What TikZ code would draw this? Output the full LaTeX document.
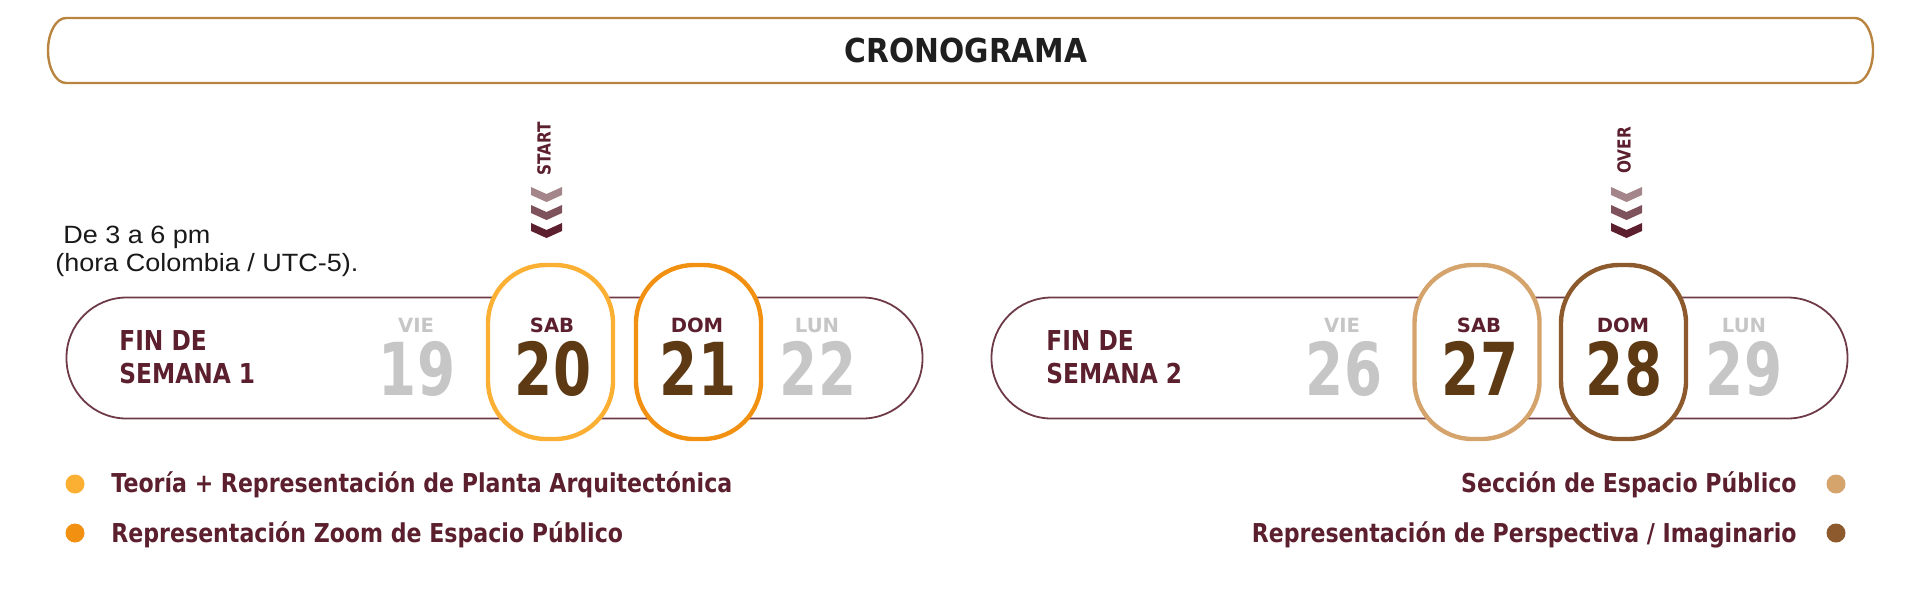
\documentclass[tikz,border=0pt]{standalone}
\usepackage{fontspec}
\newfontfamily\pixfont[FakeStretch=0.85]{DejaVu Sans}
\newfontfamily\headfont[FakeStretch=0.9]{DejaVu Sans}
\newfontfamily\dayfont{DejaVu Sans}
\newfontfamily\numfont[FakeStretch=0.75]{DejaVu Sans}
\newfontfamily\notefont[FakeStretch=1.08]{Liberation Sans}

\definecolor{wine}{HTML}{5B1F2E}
\definecolor{pillline}{HTML}{6E3A47}
\definecolor{numbrown}{HTML}{5E3A14}
\definecolor{offgray}{HTML}{C6C6C6}
\definecolor{sabA}{HTML}{FBB034}
\definecolor{domA}{HTML}{F29111}
\definecolor{sabB}{HTML}{D4A46C}
\definecolor{domB}{HTML}{8D5A2D}
\definecolor{barline}{HTML}{B8843F}
\definecolor{chevA}{HTML}{A3858A}
\definecolor{chevB}{HTML}{7E525B}
\definecolor{chevC}{HTML}{5B1F2E}

\begin{document}
\begin{tikzpicture}[
    x=0.5pt, y=-0.5pt,
    titlebar/.style={draw=barline, line width=1.2pt},
    titletext/.style={font=\headfont\bfseries\fontsize{16.5}{18}\selectfont, text=black!88},
    weekpill/.style={draw=pillline, line width=0.9pt, rounded corners=30pt,
        minimum width=428pt, minimum height=60.5pt, inner sep=0pt},
    dayoval/.style={fill=white, line width=2.2pt, rounded corners=29pt,
        minimum width=62.5pt, minimum height=87pt, inner sep=0pt},
    weektext/.style={font=\pixfont\bfseries\fontsize{13.7}{16}\selectfont,
        text=wine, anchor=base west, inner sep=0pt},
    dayname/.style={font=\dayfont\bfseries\fontsize{9.8}{11}\selectfont,
        anchor=base, inner sep=0pt},
    daynum/.style={font=\numfont\bfseries\fontsize{36.5}{40}\selectfont,
        anchor=base, inner sep=0pt},
    legtext/.style={font=\pixfont\bfseries\fontsize{13}{15}\selectfont,
        text=wine, inner sep=0pt},
    legdot/.style={circle, minimum size=9.5pt, inner sep=0pt},
    marktext/.style={font=\pixfont\bfseries\fontsize{9}{10}\selectfont,
        text=wine, rotate=90, anchor=west, inner sep=0pt},
    notetext/.style={font=\notefont\fontsize{12.5}{14}\selectfont,
        text=black!90, anchor=base west, inner sep=0pt},
    chevrons/.pic={
        \foreach \dy/\c in {0/chevA, 18/chevB, 36/chevC}
            \fill[\c] (-15.5,\dy) -- (0,\dy+7) -- (15.5,\dy) -- (15.5,\dy+8)
                -- (0,\dy+15) -- (-15.5,\dy+8) -- cycle;
    }
    ]

\useasboundingbox (0,0) rectangle (1920,602);

% title
\draw[titlebar] (66,18) -- (1855,18)
    arc[start angle=-90, end angle=90, x radius=18, y radius=32.5]
    -- (66,83) arc[start angle=90, end angle=270, x radius=18, y radius=32.5]
    -- cycle;
\node[titletext] (title) at (966,50) {CRONOGRAMA};

% hours
\node[notetext] (hours) at (63,243) {De 3 a 6 pm};
\node[notetext] (zone) at (55,271) {(hora Colombia / UTC-5).};

% weekend 1
\node[weekpill] (week1) at (494.5,358) {};
\node[dayoval, draw=sabA] (sab1) at (550.5,352) {};
\node[dayoval, draw=domA] (dom1) at (698.5,352) {};

\node[weektext] (fin1) at (119,350) {FIN DE};
\node[weektext] (sem1) at (119,383) {SEMANA 1};

\node[dayname, text=offgray] (vie1) at (416,332) {VIE};
\node[dayname, text=wine] (sabname1) at (552,332) {SAB};
\node[dayname, text=wine] (domname1) at (697,332) {DOM};
\node[dayname, text=offgray] (lun1) at (817,332) {LUN};
\node[daynum, text=offgray] (n19) at (417,395) {19};
\node[daynum, text=numbrown] (n20) at (553,395) {20};
\node[daynum, text=numbrown] (n21) at (698,395) {21};
\node[daynum, text=offgray] (n22) at (818,395) {22};

\node[marktext] (start) at (544,176) {START};
\pic at (546.5,187) {chevrons};

% weekend 2
\node[weekpill] (week2) at (1419.5,358) {};
\node[dayoval, draw=sabB] (sab2) at (1477,352) {};
\node[dayoval, draw=domB] (dom2) at (1623.5,352) {};

\node[weektext] (fin2) at (1046,350) {FIN DE};
\node[weektext] (sem2) at (1046,383) {SEMANA 2};

\node[dayname, text=offgray] (vie2) at (1342,332) {VIE};
\node[dayname, text=wine] (sabname2) at (1479,332) {SAB};
\node[dayname, text=wine] (domname2) at (1623,332) {DOM};
\node[dayname, text=offgray] (lun2) at (1744,332) {LUN};
\node[daynum, text=offgray] (n26) at (1344,395) {26};
\node[daynum, text=numbrown] (n27) at (1480,395) {27};
\node[daynum, text=numbrown] (n28) at (1624,395) {28};
\node[daynum, text=offgray] (n29) at (1744,395) {29};

\node[marktext] (over) at (1624,174) {OVER};
\pic at (1626.5,187) {chevrons};

% legend
\node[legdot, fill=sabA] (dot1) at (75,484) {};
\node[legdot, fill=domA] (dot2) at (75,533) {};
\node[legtext, anchor=base west] (leg1) at (111,492)
    {Teoría + Representación de Planta Arquitectónica};
\node[legtext, anchor=base west] (leg2) at (111,542)
    {Representación Zoom de Espacio Público};

\node[legdot, fill=sabB] (dot3) at (1836,484) {};
\node[legdot, fill=domB] (dot4) at (1836,533) {};
\node[legtext, anchor=base east] (leg3) at (1797,492)
    {Sección de Espacio Público};
\node[legtext, anchor=base east] (leg4) at (1797,542)
    {Representación de Perspectiva / Imaginario};

\end{tikzpicture}
\end{document}
